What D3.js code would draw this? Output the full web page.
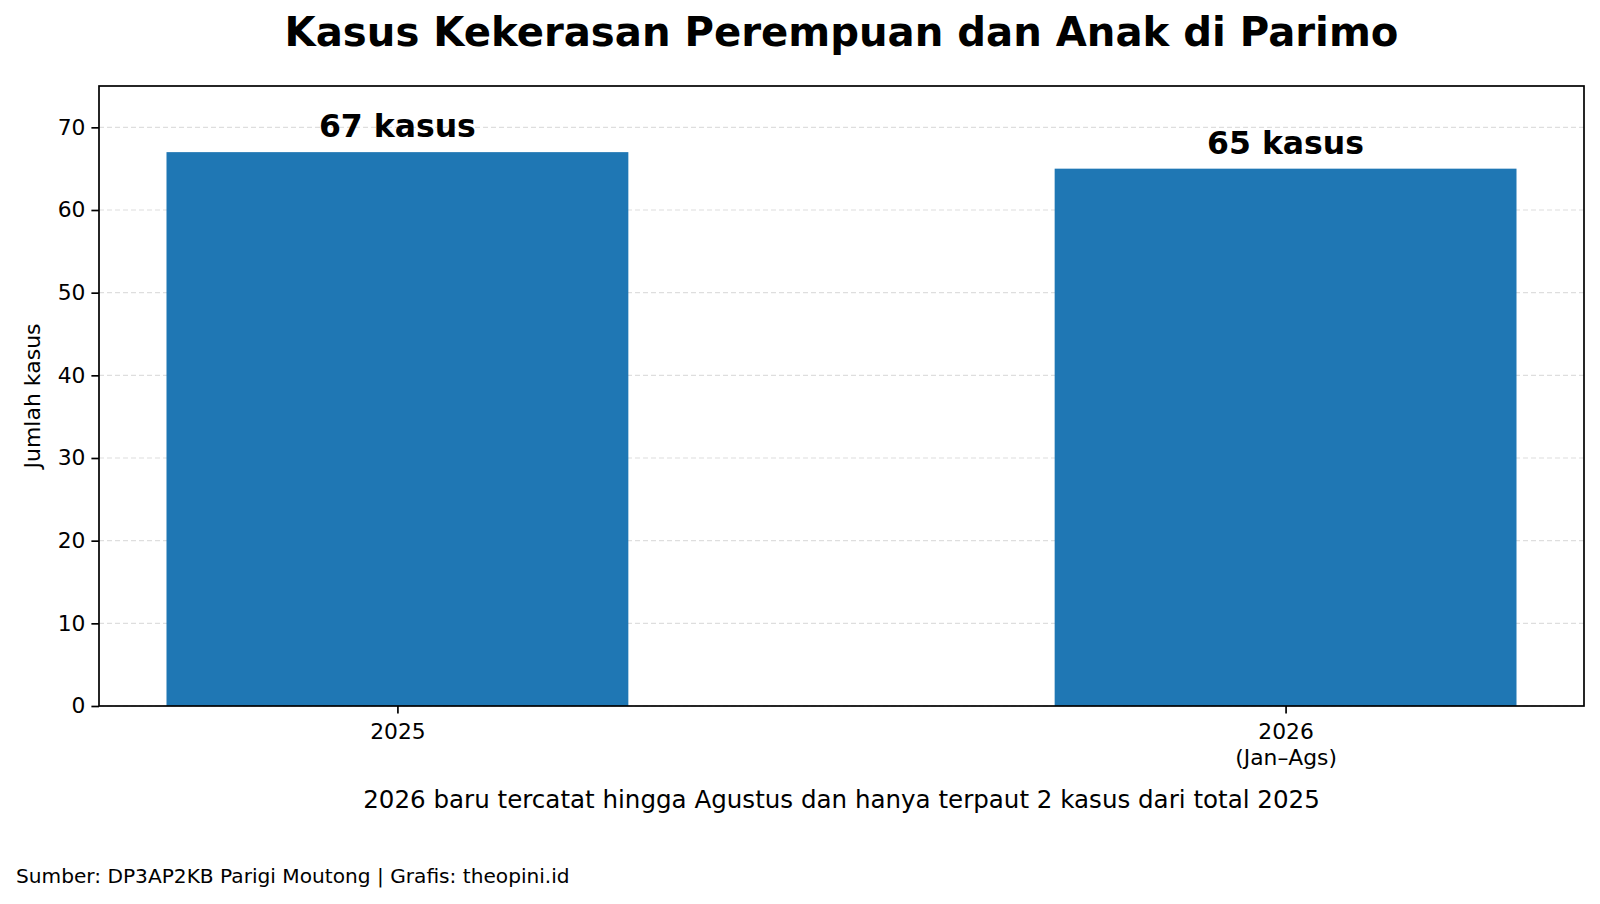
<!DOCTYPE html>
<html>
<head>
<meta charset="utf-8">
<script src="https://cdn.jsdelivr.net/npm/d3@7"></script>
<style>
  html, body { margin: 0; padding: 0; background: #fff; }
  svg { display: block; font-family: "DejaVu Sans", sans-serif; }
</style>
</head>
<body>
<svg id="chart" width="1600" height="904"></svg>
<script>
const categories = ["2025", "2026\n(Jan–Ags)"];
const values = [67, 65];
const barLabels = ["67 kasus", "65 kasus"];
const yTicks = [0, 10, 20, 30, 40, 50, 60, 70];
const yMax = 75;
const titleText = "Kasus Kekerasan Perempuan dan Anak di Parimo";
const yLabelText = "Jumlah kasus";
const xLabelText = "2026 baru tercatat hingga Agustus dan hanya terpaut 2 kasus dari total 2025";
const footerText = "Sumber: DP3AP2KB Parigi Moutong | Grafis: theopini.id";

const W = 1600, H = 904;
const m = { left: 99, right: 1584, top: 86, bottom: 706 };
const barW = 0.52;

const svg = d3.select("#chart");

const lo = -barW / 2, hi = categories.length - 1 + barW / 2;
const pad = (hi - lo) * 0.05;
const x = d3.scaleLinear().domain([lo - pad, hi + pad]).range([m.left, m.right]);
const y = d3.scaleLinear().domain([0, yMax]).range([m.bottom, m.top]);

// grid
svg.append("g").selectAll("line").data(yTicks).join("line")
  .attr("x1", m.left).attr("x2", m.right)
  .attr("y1", d => y(d)).attr("y2", d => y(d))
  .attr("stroke", "#dedede").attr("stroke-width", 1.2)
  .attr("stroke-dasharray", "5,3");

// bars
svg.append("g").selectAll("rect").data(values).join("rect")
  .attr("x", (d, i) => x(i - barW / 2))
  .attr("width", (d, i) => x(i + barW / 2) - x(i - barW / 2))
  .attr("y", d => y(d))
  .attr("height", d => y(0) - y(d))
  .attr("fill", "#1f77b4");

// bar labels
svg.append("g").selectAll("text").data(values).join("text")
  .attr("x", (d, i) => x(i))
  .attr("y", d => y(d) - 15)
  .attr("text-anchor", "middle")
  .attr("font-size", 31.5)
  .attr("font-weight", "bold")
  .attr("fill", "#000")
  .text((d, i) => barLabels[i]);

// y axis
const yAxis = d3.axisLeft(y).tickValues(yTicks).tickSize(7.6).tickPadding(6);
const gy = svg.append("g").attr("transform", `translate(${m.left},0)`).call(yAxis);
gy.select(".domain").remove();
gy.selectAll(".tick line").attr("stroke", "#000").attr("stroke-width", 1.7);
gy.selectAll(".tick text").attr("font-size", 21.8).attr("fill", "#000")
  .attr("font-family", "DejaVu Sans");

// x axis
const xAxis = d3.axisBottom(x).tickValues(categories.map((c, i) => i))
  .tickSize(7.6).tickPadding(7.6).tickFormat(() => "");
const gx = svg.append("g").attr("transform", `translate(0,${m.bottom})`).call(xAxis);
gx.select(".domain").remove();
gx.selectAll(".tick line").attr("stroke", "#000").attr("stroke-width", 1.7);
gx.selectAll(".tick").each(function(d) {
  const lines = categories[d].split("\n");
  const t = d3.select(this).append("text")
    .attr("text-anchor", "middle").attr("font-size", 21.8).attr("fill", "#000")
    .attr("font-family", "DejaVu Sans");
  lines.forEach((ln, k) => {
    t.append("tspan").attr("x", 0).attr("y", 33 + k * 26).text(ln);
  });
});

// frame
svg.append("rect")
  .attr("x", m.left).attr("y", m.top)
  .attr("width", m.right - m.left).attr("height", m.bottom - m.top)
  .attr("fill", "none").attr("stroke", "#000").attr("stroke-width", 1.7);

// title
svg.append("text")
  .attr("x", (m.left + m.right) / 2).attr("y", 46)
  .attr("text-anchor", "middle").attr("font-size", 40.2).attr("font-weight", "bold")
  .attr("fill", "#000").text(titleText);

// y label
svg.append("text")
  .attr("transform", `translate(40,${(m.top + m.bottom) / 2}) rotate(-90)`)
  .attr("text-anchor", "middle").attr("font-size", 22).attr("fill", "#000")
  .text(yLabelText);

// x label
svg.append("text")
  .attr("x", (m.left + m.right) / 2).attr("y", 808)
  .attr("text-anchor", "middle").attr("font-size", 24.55).attr("fill", "#000")
  .text(xLabelText);

// footer
svg.append("text")
  .attr("x", 16).attr("y", 883)
  .attr("font-size", 20.15).attr("fill", "#000")
  .text(footerText);
</script>
</body>
</html>
